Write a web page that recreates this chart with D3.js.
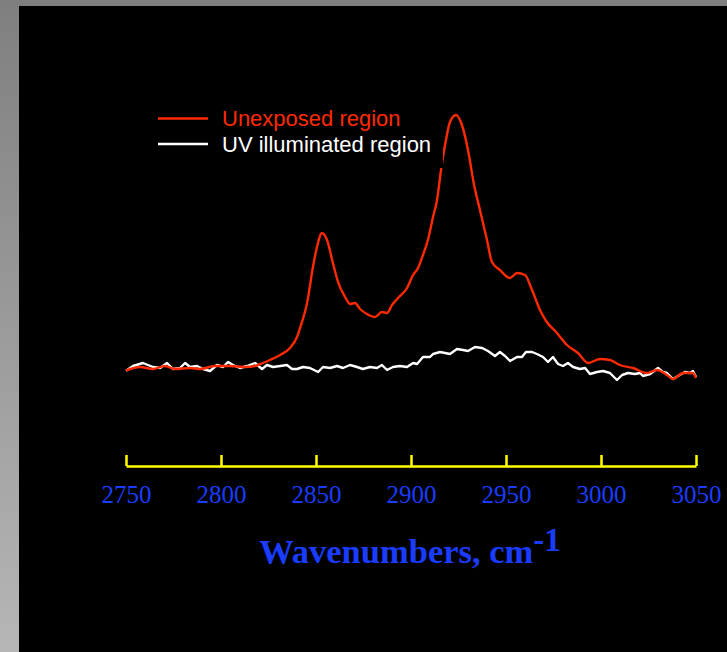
<!DOCTYPE html>
<html>
<head>
<meta charset="utf-8">
<script src="https://cdn.jsdelivr.net/npm/d3@7"></script>
<style>
  html, body { margin: 0; padding: 0; background: #000; }
  #graph { width: 727px; height: 652px; }
</style>
</head>
<body>
<div id="graph"></div>
<script>
// spectrum values (arbitrary intensity units)

var redWn = [2750, 2757.4, 2764.2, 2770.5, 2775.8, 2783.7, 2788.9, 2796.8, 2804.7, 2812.6, 2817.9,
  2822.1, 2825.8, 2831.1, 2836.3, 2840, 2841.6, 2845.3, 2848.4, 2850.5, 2853.2, 2855.8, 2858.9,
  2861.6, 2865.3, 2867.9, 2870.5, 2873.2, 2876.8, 2881.1, 2884.7, 2887.4, 2890, 2893.2, 2897.9,
  2901.1, 2903.7, 2906.3, 2908.9, 2911.6, 2913.7, 2915.8, 2918.4, 2920.5, 2923.7, 2926.8, 2930,
  2933.2, 2936.3, 2940, 2942.6, 2946.8, 2952.1, 2955.8, 2960, 2963.7, 2967.9, 2971.1, 2976.8,
  2982.1, 2987.9, 2993.2, 2999.5, 3004.7, 3010, 3016.8, 3024.2, 3029.5, 3034.7, 3037.9, 3043.2,
  3048.4, 3050];
var redInt = [29.5, 33, 31, 34, 31, 32, 31, 34, 34, 33, 34,
  37, 40, 45, 52, 63, 72, 97, 133, 153, 167, 160, 137,
  118, 103, 96, 97, 91, 86, 83, 88, 87, 95, 102, 112,
  125, 132, 145, 160, 183, 200, 230, 260, 278, 285, 275, 250,
  215, 190, 160, 138, 130, 122, 127, 125, 110, 90, 79, 67,
  55, 47, 37, 41, 40, 35, 32, 27, 30, 25, 21, 27,
  27, 22];

var whiteWn = [2750, 2753.7, 2758.9, 2764.2, 2767.9, 2771.6, 2774.7, 2778.4, 2781.1, 2783.7, 2787.4,
  2790.5, 2794.2, 2797.9, 2801.1, 2803.7, 2806.3, 2810, 2813.7, 2817.9, 2821.6, 2824.2, 2827.4,
  2831.1, 2834.7, 2837.4, 2840, 2843.2, 2846.8, 2851.1, 2853.7, 2857.4, 2861.1, 2864.2, 2867.9,
  2871.6, 2874.7, 2878.4, 2882.1, 2884.7, 2887.4, 2890.5, 2894.2, 2897.9, 2901.1, 2903.2, 2906.3,
  2910, 2911.6, 2915.3, 2920.5, 2924.2, 2927.4, 2930, 2933.7, 2937.4, 2940.5, 2944.2, 2946.8,
  2949.5, 2952.1, 2955.8, 2958.4, 2960.5, 2963.7, 2966.3, 2969.5, 2972.1, 2974.7, 2977.4, 2980,
  2982.6, 2985.3, 2988.9, 2991.6, 2994.2, 2997.9, 3001.1, 3004.7, 3008.4, 3011.1, 3014.2, 3017.9,
  3020.5, 3022.1, 3025.8, 3030, 3032.6, 3034.7, 3037.9, 3040.5, 3044.2, 3046.8, 3048.4, 3050];
var whiteInt = [29.3, 34, 37, 33, 32, 37, 31, 32, 37, 33, 34,
  31, 29, 35, 33, 38, 35, 32, 34, 37, 31, 35, 33,
  34, 35, 31, 31, 33, 32, 28, 33, 32, 34, 32, 35,
  33, 31, 33, 32, 35, 30, 33, 34, 33, 37, 36, 43,
  43, 46, 48, 46, 51, 50, 49, 53, 52, 49, 44, 48,
  44, 39, 43, 43, 48, 48, 46, 43, 38, 43, 36, 34,
  37, 33, 31, 32, 26, 28, 29, 27, 20, 25, 27, 26,
  27, 24, 26, 32, 28, 27, 21, 24, 28, 27, 29, 23];

var xTicks = [2750, 2800, 2850, 2900, 2950, 3000, 3050];
var seriesNames = ['Unexposed region', 'UV illuminated region'];
var seriesColors = ['#ff2a00', '#ffffff'];

var w = 727;
var h = 652;

var svg = d3.select('#graph').append('svg').attr('width', w).attr('height', h);

// grey frame on the left and top, lighter toward the bottom
var grad = svg.append('defs').append('linearGradient')
  .attr('id', 'frame').attr('x1', 0).attr('y1', 0).attr('x2', 0).attr('y2', 1);
grad.append('stop').attr('offset', '0%').attr('stop-color', '#7f7f7f');
grad.append('stop').attr('offset', '100%').attr('stop-color', '#b6b6b6');

svg.append('rect').attr('width', w).attr('height', h).attr('fill', 'url(#frame)');
svg.append('rect').attr('x', 0).attr('y', 0).attr('width', w).attr('height', 6).attr('fill', '#7f7f7f');
svg.append('rect').attr('x', 19).attr('y', 6).attr('width', w - 19).attr('height', h - 6).attr('fill', '#000');

var xscale = d3.scaleLinear().domain([2750, 3050]).range([126, 696]);
var yscale = d3.scaleLinear().domain([0, 300]).range([400, 100]);

var redData = redWn.map(function(d, i) { return [d, redInt[i]]; });
var whiteData = whiteWn.map(function(d, i) { return [d, whiteInt[i]]; });

var smooth = d3.line()
  .x(function(d) { return xscale(d[0]); })
  .y(function(d) { return yscale(d[1]); })
  .curve(d3.curveMonotoneX);

var jagged = d3.line()
  .x(function(d) { return xscale(d[0]); })
  .y(function(d) { return yscale(d[1]); });

svg.append('path').datum(whiteData)
  .attr('d', jagged)
  .attr('fill', 'none')
  .attr('stroke', seriesColors[1])
  .attr('stroke-width', 2.4)
  .attr('stroke-linejoin', 'round');

svg.append('path').datum(redData)
  .attr('d', smooth)
  .attr('fill', 'none')
  .attr('stroke', seriesColors[0])
  .attr('stroke-width', 2.4)
  .attr('stroke-linejoin', 'round');

// x axis: yellow, ticks pointing up
var x_axis = d3.axisBottom(xscale)
  .tickValues(xTicks)
  .tickFormat(d3.format('d'))
  .tickSizeInner(-11)
  .tickSizeOuter(0)
  .tickPadding(19);

var gx = svg.append('g')
  .attr('transform', 'translate(0,466)')
  .call(x_axis);

gx.select('.domain').attr('stroke', '#ffff00').attr('stroke-width', 2.5);
gx.selectAll('.tick line').attr('stroke', '#ffff00').attr('stroke-width', 2.5);
gx.selectAll('.tick text')
  .attr('fill', '#1a3cff')
  .attr('font-family', '"Liberation Serif", "Times New Roman", serif')
  .attr('font-size', 25);

var label = svg.append('text')
  .attr('x', 410)
  .attr('y', 563)
  .attr('text-anchor', 'middle')
  .attr('fill', '#1a3cff')
  .attr('font-family', '"Liberation Serif", "Times New Roman", serif')
  .attr('font-weight', 'bold')
  .attr('font-size', 34.5);
label.append('tspan').text('Wavenumbers, cm');
label.append('tspan').attr('dy', -12).attr('font-size', 33).text('-1');

// legend with its black backing box
var legend = svg.append('g');
legend.append('rect')
  .attr('x', 150).attr('y', 100).attr('width', 293).attr('height', 68)
  .attr('fill', '#000');

legend.selectAll('line')
  .data(seriesNames)
  .enter()
  .append('line')
  .attr('x1', 158).attr('x2', 208)
  .attr('y1', function(d, i) { return 118.5 + i * 25.5; })
  .attr('y2', function(d, i) { return 118.5 + i * 25.5; })
  .attr('stroke', function(d, i) { return seriesColors[i]; })
  .attr('stroke-width', 2.4);

legend.selectAll('text')
  .data(seriesNames)
  .enter()
  .append('text')
  .attr('x', 222)
  .attr('y', function(d, i) { return 125.5 + i * 26; })
  .attr('fill', function(d, i) { return seriesColors[i]; })
  .attr('font-family', '"Liberation Sans", Arial, sans-serif')
  .attr('font-size', 22)
  .text(function(d) { return d; });
</script>
</body>
</html>
